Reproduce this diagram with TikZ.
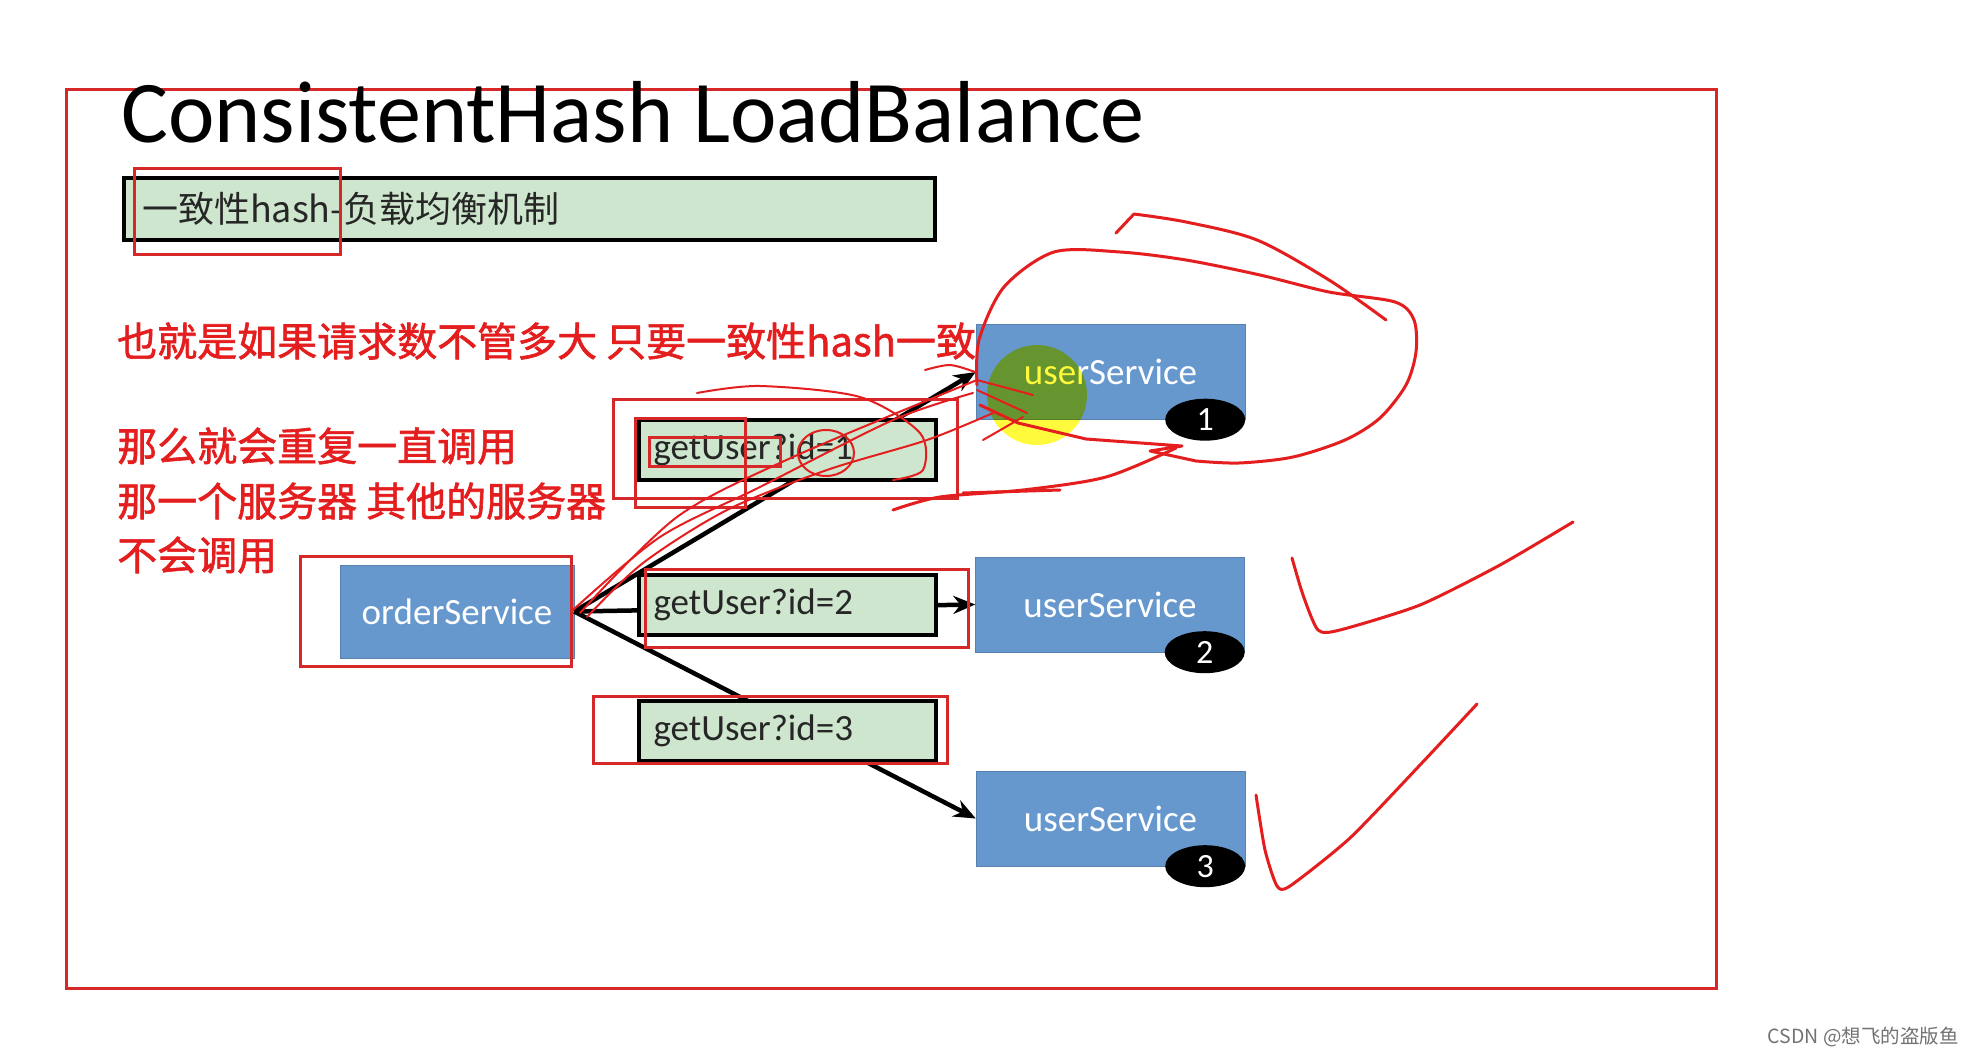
\documentclass[tikz,border=0pt]{standalone}
\usepackage{fontspec}
\setmainfont{Carlito}
\newfontfamily\cjk{Noto Sans CJK SC}
\newfontfamily\cjknote[FakeBold=1.5]{Noto Sans CJK SC}
\usetikzlibrary{arrows.meta,positioning,shapes.geometric}
\definecolor{svcblue}{RGB}{102,152,206}
\definecolor{reqgreen}{RGB}{205,230,205}
\definecolor{annored}{RGB}{228,30,30}
\definecolor{frred}{RGB}{214,40,40}
\definecolor{hiyellow}{RGB}{255,250,60}
\tikzset{
  svc/.style   ={rectangle, draw=svcblue!85!black, fill=svcblue, text=white,
                 font=\fontsize{37}{40}\selectfont, minimum width=269pt,
                 minimum height=95pt, inner sep=0pt},
  req/.style   ={rectangle, draw=black, line width=4pt, fill=reqgreen,
                 text=black!85, font=\fontsize{37}{40}\selectfont,
                 text width=267pt, inner xsep=15pt, inner ysep=0pt,
                 minimum height=60pt, align=left},
  badge/.style ={ellipse, fill=black, text=white, inner sep=0pt,
                 minimum width=80pt, minimum height=42pt,
                 font=\fontsize{34}{34}\selectfont},
  note/.style  ={anchor=west, inner sep=0pt, text=annored,
                 font=\cjknote\fontsize{40}{44}\selectfont},
  redbox/.style={draw=frred, line width=3pt},
  ink/.style   ={draw=annored, line width=3pt, line cap=round, line join=round},
  flow/.style  ={-{Stealth[length=22pt, width=18pt]}, line width=4.5pt, draw=black},
}

\begin{document}
\begin{tikzpicture}[x=1pt, y=-1pt]
  \fill[white] (0,0) rectangle (1974,1056);
  \useasboundingbox (0,0) rectangle (1974,1056);
  % frame, title
  \draw[redbox] (66,90) rectangle (1716,988);
  \node[anchor=base west, inner sep=0pt, font=\fontsize{88}{92}\selectfont]
    (title) at (121,143) {ConsistentHash LoadBalance};
  \node[req, text width=775pt, inner xsep=18pt, minimum height=62pt,
        font=\cjk\fontsize{36}{38}\selectfont] (sub) at (529.5,209) {一致性hash-负载均衡机制};
  % services
  \node[svc, minimum width=234pt, minimum height=93pt] (order) at (457,611.5) {orderService};
  \node[svc] (us1) at (1110.5,372)   {userService};
  \node[svc] (us2) at (1110,604.5)   {userService};
  \node[svc] (us3) at (1110.5,818.5) {userService};
  \draw[flow] (order.east) -- (us1.west);
  \draw[flow] (order.east) -- (us2.west);
  \draw[flow] (order.east) -- (us3.west);
  \node[req] (gu1) at (787,450)   {getUser?id=1};
  \node[req] (gu2) at (787,604.5) {getUser?id=2};
  \node[req] (gu3) at (787,731)   {getUser?id=3};
  \node[badge] (b1) at ([xshift=-40pt]us1.south east) {1};
  \node[badge] (b2) at ([xshift=-40pt]us2.south east) {2};
  \node[badge] (b3) at ([xshift=-40pt]us3.south east) {3};
  % pointer
  \begin{scope}[blend mode=multiply]
    \fill[hiyellow] (1037,395) circle (50);
  \end{scope}
  % red marks
  \draw[redbox] (134,169) rectangle (340,255);
  \draw[redbox] (300,556) rectangle (571,666);
  \draw[redbox] (613,400) rectangle (957,498);
  \draw[redbox] (635,419) rectangle (745,507);
  \draw[redbox] (649,438) rectangle (780,467);
  \draw[redbox] (645,569) rectangle (968,647);
  \draw[redbox] (593,696) rectangle (947,763);
  \node[note] (n1) at (117,341) {也就是如果请求数不管多大 只要一致性hash一致};
  \node[note] (n2) at (117,446) {那么就会重复一直调用};
  \node[note] (n3) at (117,501) {那一个服务器 其他的服务器};
  \node[note] (n4) at (117,555) {不会调用};
  % freehand
  \draw[ink] plot[smooth] coordinates {(977,385) (979,340) (1004,287) (1054,252) (1120,252)
    (1186,260) (1260,275) (1329,292) (1395,302) (1414,320) (1416,352) (1406,385)
    (1380,418) (1345,440) (1293,457) (1239,463) (1196,461)}
    -- (1150,451) -- (1182,446) -- (1086,439) -- (1018,423) -- (980,405);
  \draw[ink] (1116,233) -- (1134,214) plot[smooth] coordinates {(1134,214) (1186,222)
    (1257,240) (1329,280) (1386,320)};
  \draw[ink] plot[smooth] coordinates {(1176,448) (1106,477) (1023,490) (940,497) (893,510)};
  \draw[ink] (963,493) -- (1060,490);
  \draw[ink, line width=2pt] plot[smooth] coordinates {(573,610) (660,537) (760,487) (893,420) (973,393)};
  \draw[ink, line width=2pt] plot[smooth] coordinates {(580,613) (677,517) (793,457) (977,380)};
  \draw[ink, line width=2pt] plot[smooth] coordinates {(587,617) (643,563) (727,510) (827,470) (927,440) (993,413)};
  \draw[ink, line width=2pt] plot[smooth] coordinates {(697,393) (760,386) (860,397) (920,433) (923,470) (893,480)};
  \draw[ink, line width=2pt] (826,453) ellipse (28 and 23);
  \draw[ink, line width=2pt] plot[smooth] coordinates {(925,370) (950,365) (975,372)};
  \draw[ink, line width=2pt] (977,380) -- (1033,395);
  \draw[ink, line width=2pt] (977,390) -- (1027,413);
  \draw[ink, line width=2pt] (983,440) -- (1023,417);
  \draw[ink] plot[smooth, tension=0.4] coordinates {(1292,558) (1303,595) (1318,630) (1340,630)
    (1420,605) (1500,565) (1573,522)};
  \draw[ink] plot[smooth, tension=0.4] coordinates {(1256,795) (1265,850) (1277,886) (1290,886)
    (1350,838) (1420,765) (1477,704)};
  \node[anchor=east, inner sep=0pt, text=black!55, font=\cjk\fontsize{19.5}{20}\selectfont]
    (csdn) at (1959,1037) {CSDN @想飞的盗版鱼};
\end{tikzpicture}
\end{document}
